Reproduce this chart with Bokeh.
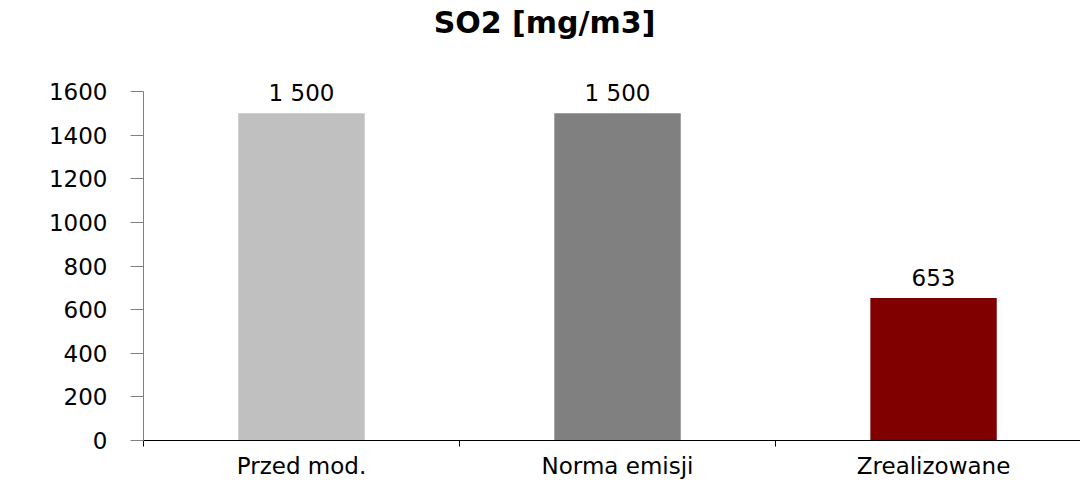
from bokeh.plotting import figure
from bokeh.models import Range1d, FixedTicker, ColumnDataSource, LabelSet, Label
from bokeh.embed import file_html
from bokeh.resources import INLINE
from bokeh.core.properties import value

categories = ["Przed mod.", "Norma emisji", "Zrealizowane"]
values = [1500, 1500, 653]
colors = ["#C0C0C0", "#808080", "#800000"]
y_ticks = [0, 200, 400, 600, 800, 1000, 1200, 1400, 1600]
title_text = "SO2 [mg/m3]"

W, H = 1080, 481
LEFT, BOTTOM = 143, 41
AXIS_TOP_PX = 91          # pixel row of the 1600 tick
X_END = 2.965
Y_MAX = 1600

xs = [i + 0.5 for i in range(len(categories))]
labels = [f"{v:,}".replace(",", " ") for v in values]

# frame fills the whole top; the value axis is bounded to 0..1600
px_per_y = (H - BOTTOM - AXIS_TOP_PX) / Y_MAX
Y_END = (H - BOTTOM) / px_per_y
px_per_x = (W - LEFT) / X_END

src = ColumnDataSource(dict(x=xs, top=values, color=colors, label=labels))

p = figure(width=W, height=H, output_backend="svg", toolbar_location=None,
           x_range=Range1d(0, X_END), y_range=Range1d(0, Y_END),
           min_border_left=LEFT, min_border_right=0, min_border_top=0,
           min_border_bottom=BOTTOM)

p.vbar(x="x", top="top", bottom=0, width=0.4, fill_color="color",
       line_color=None, source=src)

p.add_layout(LabelSet(x="x", y="top", text="label", source=src, y_offset=12,
                      text_align="center", text_baseline="alphabetic",
                      text_font=value("DejaVu Sans"), text_font_size="23px",
                      text_color="black"))

title_cx = (544 - LEFT) / px_per_x
title_by = (H - BOTTOM - 22) / px_per_y
p.add_layout(Label(x=title_cx, y=title_by, text=title_text,
                   text_align="center", text_baseline="alphabetic",
                   text_font="DejaVu Sans", text_font_style="bold",
                   text_font_size="30px", text_color="black"))

p.xgrid.visible = False
p.ygrid.visible = False
p.outline_line_color = None

xa = p.xaxis[0]
xa.ticker = FixedTicker(ticks=xs, minor_ticks=list(range(len(categories) + 1)))
xa.major_label_overrides = {x: c for x, c in zip(xs, categories)}
xa.major_tick_out = 0
xa.major_tick_in = 0
xa.minor_tick_out = 6
xa.minor_tick_in = 0
xa.minor_tick_line_color = "black"
xa.axis_line_color = "black"
xa.major_label_standoff = 6
xa.major_label_text_font = "DejaVu Sans"
xa.major_label_text_font_size = "23px"
xa.major_label_text_color = "black"

ya = p.yaxis[0]
ya.bounds = (0, Y_MAX)
ya.ticker = FixedTicker(ticks=y_ticks, minor_ticks=[])
ya.major_tick_out = 13
ya.major_tick_in = 0
ya.minor_tick_out = 0
ya.minor_tick_in = 0
ya.axis_line_color = "#808080"
ya.major_tick_line_color = "#808080"
ya.major_label_standoff = 23
ya.major_label_text_font = "DejaVu Sans"
ya.major_label_text_font_size = "23px"
ya.major_label_text_color = "black"

open("out.html", "w").write(file_html(p, INLINE))
